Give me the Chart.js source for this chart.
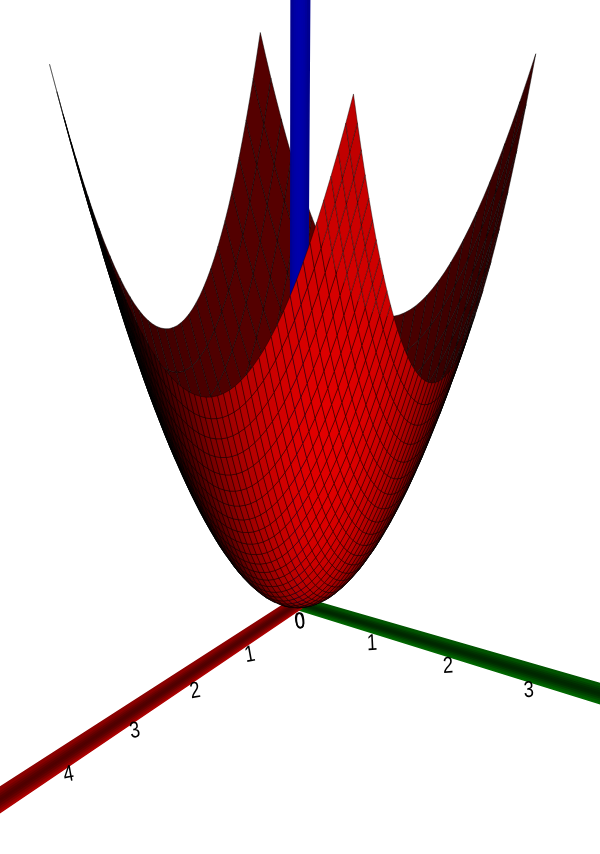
<!DOCTYPE html>
<html>
<head>
<meta charset="utf-8">
<title>Paraboloid</title>
<style>
  html, body { margin: 0; padding: 0; background: #fff; overflow: hidden; }
  canvas { display: block; }
</style>
<script src="https://cdn.jsdelivr.net/npm/chart.js@4"></script>
</head>
<body>
<canvas id="plot" width="600" height="854"></canvas>
<script>
// Grid stations along one side of the surface
const gridValues = [
  -1.750, -1.677, -1.604, -1.531, -1.458, -1.385, -1.313, -1.240, -1.167, -1.094, -1.021, -0.948,
  -0.875, -0.802, -0.729, -0.656, -0.583, -0.510, -0.438, -0.365, -0.292, -0.219, -0.146, -0.073,
  0.000,
  0.073, 0.146, 0.219, 0.292, 0.365, 0.438, 0.510, 0.583, 0.656, 0.729, 0.802, 0.875,
  0.948, 1.021, 1.094, 1.167, 1.240, 1.313, 1.385, 1.458, 1.531, 1.604, 1.677, 1.750
];
// Height contributed by each station; a cell's height is the sum of its two stations
const gridHeights = [
  3.063, 2.813, 2.573, 2.345, 2.127, 1.919, 1.723, 1.536, 1.361, 1.196, 1.042, 0.899,
  0.766, 0.643, 0.532, 0.431, 0.340, 0.260, 0.191, 0.133, 0.085, 0.048, 0.021, 0.005,
  0.000,
  0.005, 0.021, 0.048, 0.085, 0.133, 0.191, 0.260, 0.340, 0.431, 0.532, 0.643, 0.766,
  0.899, 1.042, 1.196, 1.361, 1.536, 1.723, 1.919, 2.127, 2.345, 2.573, 2.813, 3.063
];
const xTickLabels = ['0', '1', '2', '3', '4', '5'];
const xTickValues = [0, 1, 2, 3, 4, 5];
const yTickLabels = ['0', '1', '2', '3'];
const yTickValues = [0, 1, 2, 3];
const redBand = ['#8a0000', '#760000', '#640000', '#560000', '#500000', '#560000', '#660000', '#7c0000', '#940000', '#ae0000'];
const greenBand = ['#005400', '#004400', '#003600', '#002c00', '#002800', '#002c00', '#003800', '#004800', '#005a00', '#006800'];
const blueBand = ['#000090', '#00009c', '#0000a4', '#0000a8', '#0000aa', '#0000aa', '#0000a8', '#0000a4', '#00009c', '#000090'];

// View of the 3D scene, fitted by hand to the picture
const view = {
  ox: 298, oy: 603,
  ux: [-48, 70, 0.3], uy: [31.7, 21, -75.5], w: [-0.0425, -0.0275, -0.0245]
};
const camera = [13.3, 9.1, 8.1];
const lamp = [6, 6, 0.5];

function depth(x, y, z) {
  return 1 + view.w[0] * x + view.w[1] * y + view.w[2] * z;
}
function project(x, y, z) {
  const d = depth(x, y, z);
  return {
    x: view.ox + (view.ux[0] * x + view.ux[1] * y + view.ux[2] * z) / d,
    y: view.oy + (view.uy[0] * x + view.uy[1] * y + view.uy[2] * z) / d
  };
}

function facing(n, from, p) {
  const v = [from[0] - p[0], from[1] - p[1], from[2] - p[2]];
  return (n[0] * v[0] + n[1] * v[1] + n[2] * v[2]) / (Math.hypot(...n) * Math.hypot(...v));
}

// Outer side is lit by the lamp, inner side stays dark
function cellColor(x, y, z, c) {
  let r;
  if (c > 0) {
    r = 226 * Math.pow(Math.max(0, facing([2 * x, 2 * y, -1], lamp, [x, y, z])), 1.25);
    r = r * Math.min(1, 0.5 + 3 * c);
  } else {
    r = 38 + 48 * -c;
  }
  return `rgb(${Math.round(r)},0,0)`;
}

function polygon(points, fillColor, lineColor, lineWidth) {
  return {
    data: points.concat([points[0]]),
    showLine: true,
    fill: 'shape',
    tension: 0,
    pointRadius: 0,
    backgroundColor: fillColor,
    borderColor: lineColor,
    borderWidth: lineWidth
  };
}

// One side of the surface; the inner side gets a coarser mesh, as in the picture.
// The perimeter keeps every station so the rim stays smooth.
function surfaceCells(step, wantOuter, lineColor) {
  const found = [];
  for (let i = 0; i + step < gridValues.length; i += step) {
    for (let j = 0; j + step < gridValues.length; j += step) {
      const ring = [];
      for (let k = 0; k < step; k++) ring.push([i + k, j]);
      for (let k = 0; k < step; k++) ring.push([i + step, j + k]);
      for (let k = 0; k < step; k++) ring.push([i + step - k, j + step]);
      for (let k = 0; k < step; k++) ring.push([i, j + step - k]);
      const corners = ring.map(([a, b]) => [gridValues[a], gridValues[b], gridHeights[a] + gridHeights[b]]);
      const mid = [0, 1, 2].map(k => corners.reduce((s, c) => s + c[k], 0) / corners.length);
      const c = facing([2 * mid[0], 2 * mid[1], -1], camera, mid);
      if ((c > 0) !== wantOuter) continue;
      found.push({
        d: depth(mid[0], mid[1], mid[2]),
        set: polygon(corners.map(p => project(p[0], p[1], p[2])), cellColor(mid[0], mid[1], mid[2], c), lineColor, 0.55)
      });
    }
  }
  // Nearest first because Chart.js paints the last dataset first
  found.sort((a, b) => a.d - b.d);
  return found.map(f => f.set);
}

// Axis bars are stacks of thin strips, which gives the rounded look
function axisBar(axis, length, side, r0, r1, colors) {
  const sets = [];
  const at = (t, s) => {
    const r = (r0 + r1 * t) * s;
    const p = [side[0] * r, side[1] * r, side[2] * r];
    p[axis] += t;
    return project(p[0], p[1], p[2]);
  };
  colors.forEach((col, k) => {
    const s0 = -0.92 + 1.84 * k / colors.length;
    const s1 = -0.92 + 1.84 * (k + 1) / colors.length;
    sets.push(polygon([at(0, s0), at(length, s0), at(length, s1), at(0, s1)], col, col, 1.6));
  });
  return sets;
}

// The blue bar stands inside the bowl: over the inner wall, under the outer wall
const datasets = [].concat(
  surfaceCells(1, true, 'rgba(0,0,0,0.72)'),
  axisBar(2, 7.5, [0.565, -0.825, 0], 0.099, 0, blueBand),
  surfaceCells(2, false, 'rgba(0,0,0,0.9)'),
  axisBar(0, 8, [0, 0.665, -0.747], 0.082, 0.0054, redBand),
  axisBar(1, 8, [0.52, 0, -0.854], 0.08, 0.0078, greenBand)
);

// Tick numbers sit just under the bars
const tickLabels = {
  id: 'tickLabels',
  afterDatasetsDraw(chart) {
    const { ctx, scales } = chart;
    const put = (text, p, angle) => {
      ctx.save();
      ctx.translate(scales.x.getPixelForValue(p.x) + 2, scales.y.getPixelForValue(p.y) + 19);
      ctx.rotate(angle);
      ctx.scale(0.8, 1);
      ctx.font = '23px "Liberation Sans"';
      ctx.fillStyle = '#000';
      ctx.textAlign = 'center';
      ctx.textBaseline = 'middle';
      ctx.fillText(text, 0, 0);
      ctx.restore();
    };
    xTickValues.forEach((t, i) => put(xTickLabels[i], project(t, 0, 0), -0.18));
    yTickValues.forEach((t, i) => put(yTickLabels[i], project(0, t, 0), -0.05));
  }
};

new Chart(document.getElementById('plot'), {
  type: 'scatter',
  data: { datasets },
  plugins: [tickLabels],
  options: {
    responsive: false,
    animation: false,
    events: [],
    devicePixelRatio: 1,
    layout: { padding: 0 },
    plugins: { legend: { display: false }, tooltip: { enabled: false } },
    scales: {
      x: { display: false, min: 0, max: 600 },
      y: { display: false, min: 0, max: 854, reverse: true }
    }
  }
});
</script>
</body>
</html>
